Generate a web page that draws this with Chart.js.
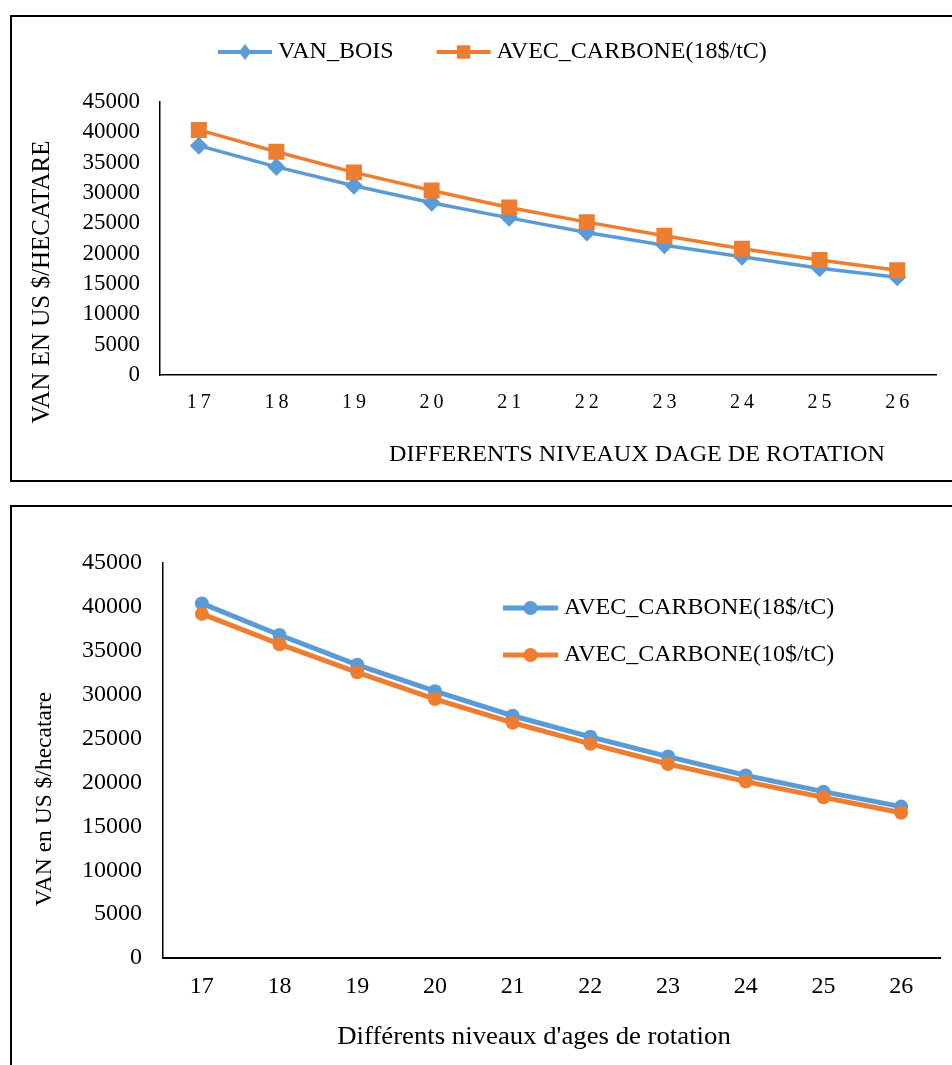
<!DOCTYPE html>
<html>
<head>
<meta charset="utf-8">
<title>VAN</title>
<script src="https://cdn.jsdelivr.net/npm/chart.js@4.4.0/dist/chart.umd.min.js"></script>
<style>
  html, body { margin: 0; padding: 0; background: #fff; overflow: hidden; }
  .box { position: absolute; left: 10px; width: 960px; border: 2px solid #000; box-sizing: border-box; }
  #box1 { top: 15px; height: 467px; }
  #box2 { top: 505px; height: 580px; }
  .box canvas { display: block; }
</style>
</head>
<body>
<div class="box" id="box1"><canvas id="chart1"></canvas></div>
<div class="box" id="box2"><canvas id="chart2"></canvas></div>
<script>
// DATA
const ages = ["17", "18", "19", "20", "21", "22", "23", "24", "25", "26"];
const vanBois = [37800, 34300, 31200, 28400, 25900, 23500, 21400, 19500, 17600, 16100];
const carbone18 = [40400, 36800, 33400, 30400, 27600, 25200, 22950, 20800, 18950, 17250];
const carbone10 = [39200, 35750, 32550, 29500, 26800, 24400, 22100, 20100, 18300, 16550];
const yTicks = [0, 5000, 10000, 15000, 20000, 25000, 30000, 35000, 40000, 45000];

const BLUE = "#5B9BD5";
const ORANGE = "#ED7D31";
const FONT = "'Liberation Serif', 'Times New Roman', serif";

// LEGEND (line sample + marker, Excel style)
function drawMarker(ctx, style, r, x, y) {
  ctx.beginPath();
  if (style === "rectRot") {
    ctx.moveTo(x, y - r); ctx.lineTo(x + r * 0.75, y); ctx.lineTo(x, y + r); ctx.lineTo(x - r * 0.75, y); ctx.closePath();
  } else if (style === "rect") {
    const s = r * Math.SQRT1_2;
    ctx.rect(x - s, y - s, 2 * s, 2 * s);
  } else {
    ctx.arc(x, y, r, 0, Math.PI * 2);
  }
  ctx.fill();
}

const lineLegend = {
  id: "lineLegend",
  afterDraw(chart, args, opts) {
    const ctx = chart.ctx;
    let x = opts.x, y = opts.y;
    chart.data.datasets.forEach(ds => {
      ctx.save();
      ctx.strokeStyle = ds.borderColor;
      ctx.lineWidth = opts.lineWidth || ds.borderWidth;
      ctx.beginPath();
      ctx.moveTo(x, y);
      ctx.lineTo(x + opts.sample, y);
      ctx.stroke();
      ctx.fillStyle = ds.pointBackgroundColor;
      drawMarker(ctx, ds.pointStyle, ds.legendRadius || ds.pointRadius, x + opts.sample / 2, y);
      ctx.font = opts.size + "px " + FONT;
      ctx.fillStyle = "#000";
      ctx.textAlign = "left";
      ctx.textBaseline = "middle";
      ctx.fillText(ds.label, x + opts.sample + opts.gap, y);
      const w = ctx.measureText(ds.label).width;
      ctx.restore();
      if (opts.vertical) y += opts.rowStep;
      else x += opts.sample + opts.gap + w + opts.itemGap;
    });
  }
};

// AXIS TITLES
const axisTitles = {
  id: "axisTitles",
  afterDraw(chart, args, opts) {
    const ctx = chart.ctx;
    (opts.items || []).forEach(t => {
      ctx.save();
      ctx.font = t.size + "px " + FONT;
      ctx.fillStyle = "#000";
      ctx.textAlign = "center";
      ctx.textBaseline = "middle";
      ctx.translate(t.x, t.y);
      if (t.rotate) ctx.rotate(-Math.PI / 2);
      if (t.stretch) ctx.scale(t.stretch, 1);
      ctx.fillText(t.text, 0, 0);
      ctx.restore();
    });
  }
};

// letter spacing on the x tick labels (top chart)
const tickSpacing = {
  id: "tickSpacing",
  afterUpdate(chart, args, opts) {
    const sc = chart.scales.x;
    if (!opts.spacing || sc._spaced) return;
    const orig = sc.drawLabels;
    sc.drawLabels = function (area) {
      this.ctx.save();
      this.ctx.letterSpacing = opts.spacing + "px";
      this.ctx.translate(opts.spacing / 2, 0);
      orig.call(this, area);
      this.ctx.restore();
    };
    sc._spaced = true;
  }
};

function yScale(size, pad, width) {
  return {
    min: yTicks[0],
    max: yTicks[yTicks.length - 1],
    grid: { display: false, drawTicks: false },
    border: { display: true, color: "#000", width: 1.5 },
    ticks: {
      stepSize: yTicks[1] - yTicks[0],
      autoSkip: false,
      color: "#000",
      padding: pad,
      font: { family: FONT, size: size },
      callback: v => String(v)
    },
    afterFit: s => { s.width = width; }
  };
}

function xScale(size, pad, height, borderW) {
  return {
    offset: true,
    grid: { display: false, drawTicks: false },
    border: { display: true, color: "#000", width: borderW },
    ticks: {
      color: "#000",
      padding: pad,
      maxRotation: 0,
      autoSkip: false,
      font: { family: FONT, size: size }
    },
    afterFit: s => { s.height = height; }
  };
}

// TOP CHART
new Chart(document.getElementById("chart1"), {
  type: "line",
  data: {
    labels: ages,
    datasets: [
      {
        label: "VAN_BOIS", data: vanBois, order: 1,
        borderColor: BLUE, backgroundColor: BLUE, borderWidth: 3.5,
        pointStyle: "rectRot", pointRadius: 9, legendRadius: 8, pointBackgroundColor: BLUE, pointBorderWidth: 0,
        tension: 0
      },
      {
        label: "AVEC_CARBONE(18$/tC)", data: carbone18, order: 0,
        borderColor: ORANGE, backgroundColor: ORANGE, borderWidth: 3.5,
        pointStyle: "rect", pointRadius: 11.3, legendRadius: 9.5, pointBackgroundColor: ORANGE, pointBorderWidth: 0,
        tension: 0
      }
    ]
  },
  options: {
    responsive: true,
    maintainAspectRatio: false,
    animation: false,
    layout: { padding: { top: 85, right: 32, left: 0, bottom: 0 } },
    plugins: {
      legend: { display: false },
      tooltip: { enabled: false },
      lineLegend: { x: 206, y: 35, sample: 54, gap: 6, itemGap: 43, size: 24, lineWidth: 4 },
      axisTitles: {
        items: [
          { text: "DIFFERENTS NIVEAUX DAGE DE ROTATION", x: 625, y: 438, size: 23, stretch: 1.05 },
          { text: "VAN EN US $/HECATARE", x: 30, y: 265, size: 25, rotate: true }
        ]
      },
      tickSpacing: { spacing: 4 }
    },
    scales: {
      x: xScale(20, 16, 105, 1.5),
      y: yScale(23, 20, 148)
    }
  },
  plugins: [lineLegend, axisTitles, tickSpacing]
});

// BOTTOM CHART
new Chart(document.getElementById("chart2"), {
  type: "line",
  data: {
    labels: ages,
    datasets: [
      {
        label: "AVEC_CARBONE(18$/tC)", data: carbone18, order: 1,
        borderColor: BLUE, backgroundColor: BLUE, borderWidth: 5,
        pointStyle: "circle", pointRadius: 7, pointBackgroundColor: BLUE, pointBorderWidth: 0,
        tension: 0
      },
      {
        label: "AVEC_CARBONE(10$/tC)", data: carbone10, order: 0,
        borderColor: ORANGE, backgroundColor: ORANGE, borderWidth: 5,
        pointStyle: "circle", pointRadius: 7, pointBackgroundColor: ORANGE, pointBorderWidth: 0,
        tension: 0
      }
    ]
  },
  options: {
    responsive: true,
    maintainAspectRatio: false,
    animation: false,
    layout: { padding: { top: 56, right: 28, left: 0, bottom: 0 } },
    plugins: {
      legend: { display: false },
      tooltip: { enabled: false },
      lineLegend: { x: 491, y: 101, sample: 55, gap: 6, rowStep: 47, size: 24, vertical: true },
      axisTitles: {
        items: [
          { text: "Différents niveaux d'ages de rotation", x: 522, y: 530, size: 25, stretch: 1.07 },
          { text: "VAN en US $/hecatare", x: 33, y: 292, size: 23.5, rotate: true }
        ]
      }
    },
    scales: {
      x: xScale(24, 14, 125, 2),
      y: yScale(24, 21, 151)
    }
  },
  plugins: [lineLegend, axisTitles]
});
</script>
</body>
</html>
